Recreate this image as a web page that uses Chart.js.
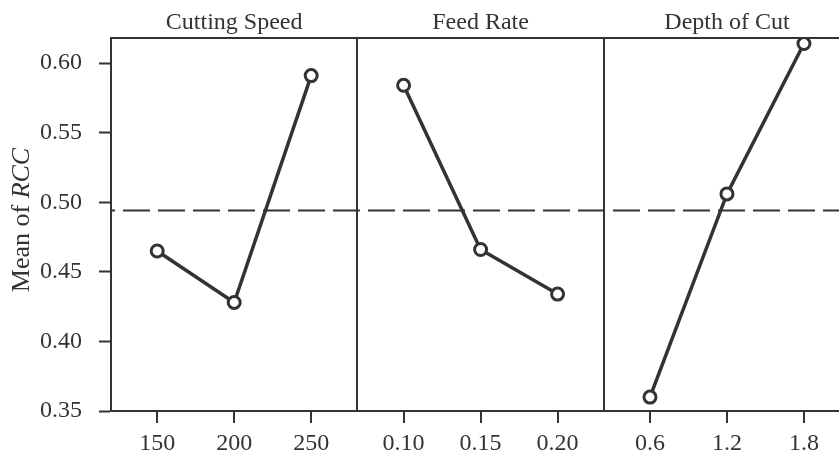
<!DOCTYPE html>
<html>
<head>
<meta charset="utf-8">
<script src="https://cdn.jsdelivr.net/npm/chart.js@4"></script>
<style>
  html, body { margin: 0; padding: 0; background: #fff; overflow: hidden; }
  #wrap { width: 839px; height: 454px; }
</style>
</head>
<body>
<div id="wrap"><canvas id="mainChart"></canvas></div>
<script>
'use strict';

// 各因子の水準と平均値
const panelTitles = ['Cutting Speed', 'Feed Rate', 'Depth of Cut'];
const speedLevels = ['150', '200', '250'];
const feedLevels = ['0.10', '0.15', '0.20'];
const depthLevels = ['0.6', '1.2', '1.8'];
const speedMeans = [0.465, 0.428, 0.591];
const feedMeans = [0.584, 0.466, 0.434];
const depthMeans = [0.360, 0.506, 0.614];
const overallMean = 0.494;
const yTicks = [0.35, 0.40, 0.45, 0.50, 0.55, 0.60];

const ink = '#333333';
const serif = "'Liberation Serif', 'DejaVu Serif', serif";

// パネルごとのx位置 (1パネル = 3.2単位)
const panelStep = 3.2;
const xMin = -0.6;
const xMax = 8.855;
const levels = [speedLevels, feedLevels, depthLevels];
const means = [speedMeans, feedMeans, depthMeans];

let tickPos = [];
let tickText = [];
let dividerPos = [];
levels.forEach(function (lv, p) {
  lv.forEach(function (t, i) {
    tickPos.push(p * panelStep + i);
    tickText.push(t);
  });
  if (p < levels.length - 1) {
    dividerPos.push(p * panelStep + 2.6);
  }
});
const allXTicks = tickPos.concat(dividerPos).sort(function (a, b) { return a - b; });
const titlePos = panelTitles.map(function (t, p) { return p * panelStep + 1; });

function isDivider(v) {
  return dividerPos.some(function (d) { return Math.abs(d - v) < 1e-6; });
}

let datasets = means.map(function (m, p) {
  return {
    data: m.map(function (v, i) { return { x: p * panelStep + i, y: v }; }),
    borderColor: ink,
    borderWidth: 3.5,
    pointRadius: 6,
    pointBorderWidth: 3,
    pointBackgroundColor: '#ffffff',
    pointBorderColor: ink,
    tension: 0
  };
});
datasets.push({
  data: [{ x: xMin, y: overallMean }, { x: xMax, y: overallMean }],
  borderColor: ink,
  borderWidth: 2,
  borderDash: [27, 8],
  borderDashOffset: 23,
  pointRadius: 0
});

// y軸タイトル (RCCは斜体)
const yTitlePlugin = {
  id: 'yTitle',
  afterDraw: function (chart) {
    const ctx = chart.ctx;
    ctx.save();
    ctx.translate(22, 220);
    ctx.rotate(-Math.PI / 2);
    ctx.fillStyle = ink;
    ctx.textBaseline = 'middle';
    const normal = '26px ' + serif;
    const italic = 'italic 26px ' + serif;
    ctx.font = normal;
    const w1 = ctx.measureText('Mean of ').width;
    ctx.font = italic;
    const w2 = ctx.measureText('RCC').width;
    let x = -(w1 + w2) / 2;
    ctx.font = normal;
    ctx.textAlign = 'left';
    ctx.fillText('Mean of ', x, 0);
    ctx.font = italic;
    ctx.fillText('RCC', x + w1, 0);
    ctx.restore();
  }
};

const mainCtx = document.getElementById('mainChart');
let mainConfig = {
  type: 'line',
  data: { datasets: datasets },
  options: {
    responsive: true,
    maintainAspectRatio: false,
    animation: false,
    layout: { padding: 0, autoPadding: false },
    plugins: {
      legend: { display: false },
      tooltip: { enabled: false }
    },
    scales: {
      x: {
        type: 'linear',
        position: 'bottom',
        min: xMin,
        max: xMax,
        afterFit: function (s) { s.height = 43; },
        afterBuildTicks: function (s) {
          s.ticks = allXTicks.map(function (v) { return { value: v }; });
        },
        border: { display: true, color: ink, width: 2 },
        grid: {
          drawOnChartArea: true,
          drawTicks: true,
          tickLength: 12,
          color: function (c) { return isDivider(c.tick.value) ? ink : 'rgba(0,0,0,0)'; },
          lineWidth: 2,
          tickColor: function (c) { return isDivider(c.tick.value) ? 'rgba(0,0,0,0)' : ink; },
          tickWidth: 2
        },
        ticks: {
          autoSkip: false,
          maxRotation: 0,
          padding: 6,
          color: ink,
          font: { family: serif, size: 24 },
          callback: function (v) {
            const i = tickPos.findIndex(function (t) { return Math.abs(t - v) < 1e-6; });
            return i >= 0 ? tickText[i] : '';
          }
        }
      },
      x2: {
        type: 'linear',
        position: 'top',
        min: xMin,
        max: xMax,
        afterFit: function (s) { s.height = 38; },
        afterBuildTicks: function (s) {
          s.ticks = titlePos.map(function (v) { return { value: v }; });
        },
        border: { display: true, color: ink, width: 2 },
        grid: { display: false, drawTicks: false },
        ticks: {
          autoSkip: false,
          maxRotation: 0,
          padding: 1,
          color: ink,
          font: { family: serif, size: 24 },
          callback: function (v) {
            const i = titlePos.findIndex(function (t) { return Math.abs(t - v) < 1e-6; });
            return i >= 0 ? panelTitles[i] : '';
          }
        }
      },
      y: {
        type: 'linear',
        position: 'left',
        min: 0.35,
        max: 0.618,
        afterFit: function (s) { s.width = 111; },
        afterBuildTicks: function (s) {
          s.ticks = yTicks.map(function (v) { return { value: v }; });
        },
        border: { display: true, color: ink, width: 2 },
        grid: {
          drawOnChartArea: false,
          drawTicks: true,
          tickLength: 12,
          tickColor: ink,
          tickWidth: 2
        },
        ticks: {
          padding: 17,
          color: ink,
          font: { family: serif, size: 24 },
          callback: function (v) { return v.toFixed(2); }
        }
      }
    }
  },
  plugins: [yTitlePlugin]
};
let mainChart = new Chart(mainCtx, mainConfig);
</script>
</body>
</html>
